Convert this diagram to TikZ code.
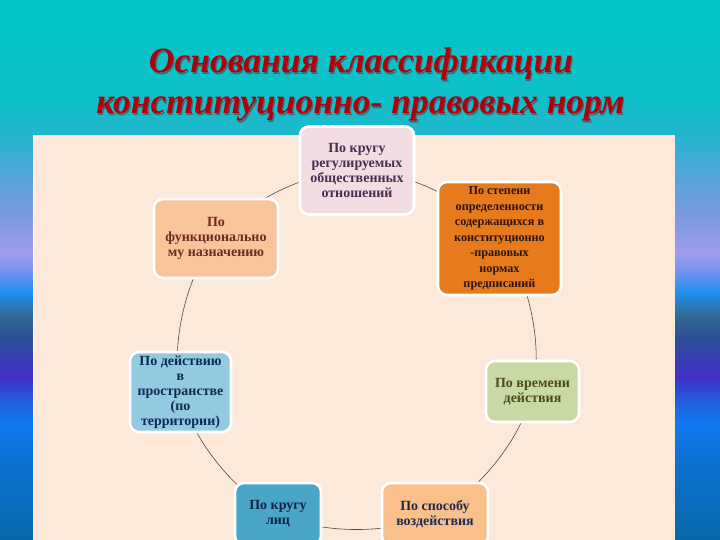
\documentclass[tikz,border=0pt]{standalone}
\usepackage{fontspec}
\setmainfont{Liberation Serif}
\definecolor{c0}{HTML}{00C6C6}
\definecolor{c1}{HTML}{0EC0C8}
\definecolor{c2}{HTML}{22B6CE}
\definecolor{c3}{HTML}{48A8DA}
\definecolor{c4}{HTML}{7898E0}
\definecolor{c5}{HTML}{A09CF0}
\definecolor{c6}{HTML}{7090F0}
\definecolor{c7}{HTML}{2090F0}
\definecolor{c8}{HTML}{306890}
\definecolor{c9}{HTML}{2C5098}
\definecolor{c10}{HTML}{4030C8}
\definecolor{c11}{HTML}{2060E0}
\definecolor{c12}{HTML}{1078F0}
\definecolor{c13}{HTML}{0C70D0}
\definecolor{c14}{HTML}{0868A8}
\definecolor{panelc}{HTML}{FCE9DA}
\definecolor{titlec}{HTML}{B0000E}
\definecolor{shadowc}{HTML}{505050}
\definecolor{linkc}{HTML}{4A4A4A}
\definecolor{f0}{HTML}{F1DDE2}\definecolor{t0}{HTML}{4A2E52}
\definecolor{f1}{HTML}{E87A1E}\definecolor{t1}{HTML}{2A1408}
\definecolor{f2}{HTML}{C9D9A3}\definecolor{t2}{HTML}{4B4A1E}
\definecolor{f3}{HTML}{F9C08C}\definecolor{t3}{HTML}{1E2A52}
\definecolor{f4}{HTML}{4AA6C6}\definecolor{t4}{HTML}{0E2244}
\definecolor{f5}{HTML}{93CAE0}\definecolor{t5}{HTML}{0E2A52}
\definecolor{f6}{HTML}{F8C499}\definecolor{t6}{HTML}{6E2A24}
\pgfdeclarelayer{bglayer}
\pgfdeclarelayer{arclayer}
\pgfsetlayers{bglayer,arclayer,main}
\begin{document}
\begin{tikzpicture}[x=1pt,y=1pt,
  box/.style={rectangle, rounded corners=9pt, draw=white, line width=2.6pt,
    align=center, font=\fontsize{14}{15}\selectfont\bfseries, inner sep=1pt},
  smallbox/.style={box, font=\fontsize{12.2}{15.5}\selectfont\bfseries},
  link/.style={draw=linkc, line width=0.6pt, bend left=25.7, looseness=0.78},
  titletext/.style={anchor=base, inner sep=0pt, font=\fontsize{35.5}{40}\selectfont\bfseries\itshape}]
\begin{pgfonlayer}{bglayer}
\useasboundingbox (0,0) rectangle (720,540);
\clip (0,0) rectangle (720,540);
\shade[top color=c0, bottom color=c1] (0,540) rectangle (720,440);
\shade[top color=c1, bottom color=c2] (0,440.5) rectangle (720,405);
\shade[top color=c2, bottom color=c3] (0,405.5) rectangle (720,375);
\shade[top color=c3, bottom color=c4] (0,375.5) rectangle (720,327);
\shade[top color=c4, bottom color=c5] (0,327.5) rectangle (720,287);
\shade[top color=c5, bottom color=c6] (0,287.5) rectangle (720,267);
\shade[top color=c6, bottom color=c7] (0,267.5) rectangle (720,247);
\shade[top color=c7, bottom color=c8] (0,247.5) rectangle (720,223);
\shade[top color=c8, bottom color=c9] (0,223.5) rectangle (720,203);
\shade[top color=c9, bottom color=c10] (0,203.5) rectangle (720,163);
\shade[top color=c10, bottom color=c11] (0,163.5) rectangle (720,137);
\shade[top color=c11, bottom color=c12] (0,137.5) rectangle (720,117);
\shade[top color=c12, bottom color=c13] (0,117.5) rectangle (720,77);
\shade[top color=c13, bottom color=c14] (0,77.5) rectangle (720,0);
\fill[panelc] (33,0) rectangle (675,405);
\draw[white, line width=1pt] (33.5,0) -- (33.5,405);
\end{pgfonlayer}
\clip (0,0) rectangle (720,540);
% title
\node[titletext, text=shadowc, opacity=0.75] (t1s) at (362.2,465.8) {Основания классификации};
\node[titletext, text=titlec] (t1) at (361,467) {Основания классификации};
\node[titletext, text=shadowc, opacity=0.75] (t2s) at (361.7,424.8) {конституционно- правовых норм};
\node[titletext, text=titlec] (t2) at (360.5,426) {конституционно- правовых норм};
% nodes
\node[box, fill=f0, text=t0, minimum width=114pt, minimum height=88pt] (n0) at (357,369.5)
  {По кругу\\регулируемых\\общественных\\отношений};
\node[smallbox, fill=f1, text=t1, minimum width=123pt, minimum height=113pt] (n1) at (499.5,301.5)
  {По степени\\определенности\\содержащихся в\\конституционно\\-правовых\\нормах\\предписаний};
\node[box, fill=f2, text=t2, minimum width=93pt, minimum height=61pt] (n2) at (532.5,148.5)
  {По времени\\действия};
\node[box, fill=f3, text=t3, minimum width=106pt, minimum height=62pt] (n3) at (435,26)
  {По способу\\воздействия};
\node[box, fill=f4, text=t4, minimum width=86pt, minimum height=62pt] (n4) at (278,26)
  {По кругу\\лиц};
\node[box, fill=f5, text=t5, minimum width=101pt, minimum height=80pt] (n5) at (180.5,148)
  {По действию\\в\\пространстве\\(по\\территории)};
\node[box, fill=f6, text=t6, minimum width=124pt, minimum height=79pt] (n6) at (216,301.5)
  {По\\функционально\\му назначению};
% connectors (circle arcs through node centres, hidden behind the nodes)
\begin{pgfonlayer}{arclayer}
\draw[link] (n0.center) to (n1.center);
\draw[link] (n1.center) to (n2.center);
\draw[link] (n2.center) to (n3.center);
\draw[link] (n3.center) to (n4.center);
\draw[link] (n4.center) to (n5.center);
\draw[link] (n5.center) to (n6.center);
\draw[link] (n6.center) to (n0.center);
\end{pgfonlayer}
\end{tikzpicture}
\end{document}
